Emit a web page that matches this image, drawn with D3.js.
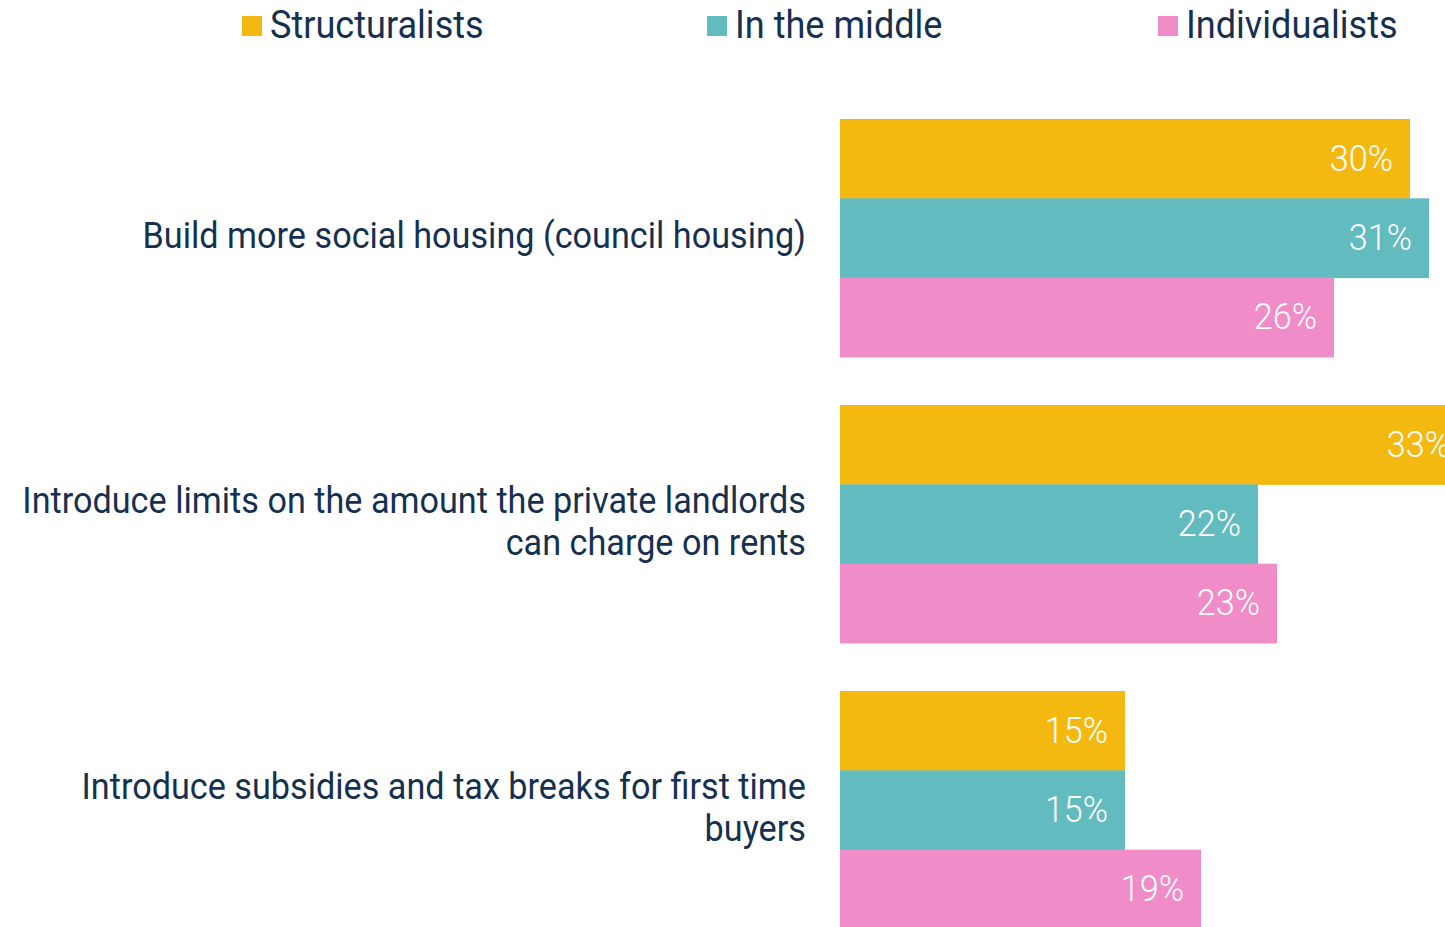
<!DOCTYPE html>
<html>
<head>
<meta charset="utf-8">
<script src="https://cdn.jsdelivr.net/npm/d3@7"></script>
<style>
  body { margin: 0; background: #fff; }
  text { font-family: Roboto, "Liberation Sans", sans-serif; }
</style>
</head>
<body>
<div id="chart"></div>
<script>
// data
const categories = [
  ["Build more social housing (council housing)"],
  ["Introduce limits on the amount the private landlords", "can charge on rents"],
  ["Introduce subsidies and tax breaks for first time", "buyers"]
];
const seriesNames = ["Structuralists", "In the middle", "Individualists"];
const structuralists = [30, 33, 15];
const inTheMiddle = [31, 22, 15];
const individualists = [26, 23, 19];
const colors = ["#F3B910", "#62BBBF", "#F08CC8"];

const width = 1445, height = 927;
const ink = "#16304F";
const squeeze = 0.95; // the original face is a bit narrower

const svg = d3.select("#chart").append("svg")
  .attr("width", width)
  .attr("height", height);

const x = d3.scaleLinear().domain([0, 31]).range([840, 1429]);

const y = d3.scaleBand()
  .domain(d3.range(categories.length))
  .range([119, 929])
  .paddingInner(0.168)
  .paddingOuter(0);

const ySub = d3.scaleBand()
  .domain(d3.range(seriesNames.length))
  .range([0, y.bandwidth()]);

const allSeries = [structuralists, inTheMiddle, individualists];

// bars
const groups = svg.selectAll("g.grp")
  .data(categories)
  .join("g")
  .attr("class", "grp")
  .attr("transform", (d, i) => `translate(0,${y(i)})`);

groups.each(function(cat, ci) {
  const g = d3.select(this);
  const rows = allSeries.map((s, si) => ({ si, v: s[ci] }));
  g.selectAll("rect")
    .data(rows)
    .join("rect")
    .attr("x", x(0))
    .attr("y", d => ySub(d.si))
    .attr("width", d => x(d.v) - x(0))
    .attr("height", ySub.bandwidth() + 0.5)
    .attr("fill", d => colors[d.si]);
  g.selectAll("text.val")
    .data(rows)
    .join("text")
    .attr("class", "val")
    .attr("transform", d => `translate(${x(d.v) - 17},${ySub(d.si) + ySub.bandwidth() / 2}) scale(${squeeze},1)`)
    .attr("dy", "0.33em")
    .attr("text-anchor", "end")
    .attr("fill", "#fff")
    .attr("font-size", 36)
    .attr("font-weight", 300)
    .text(d => d.v + "%");

  // category label
  const lh = 42;
  const y0 = y.bandwidth() / 2 - 2 - (cat.length - 1) * lh / 2;
  g.selectAll("text.cat")
    .data(cat)
    .join("text")
    .attr("class", "cat")
    .attr("transform", (d, i) => `translate(806,${y0 + i * lh}) scale(${squeeze},1)`)
    .attr("dy", "0.33em")
    .attr("text-anchor", "end")
    .attr("fill", ink)
    .attr("font-size", 36)
    .text(d => d);
});

// legend
const legendX = [242, 707, 1158];
const legend = svg.selectAll("g.leg")
  .data(seriesNames)
  .join("g")
  .attr("class", "leg")
  .attr("transform", (d, i) => `translate(${legendX[i]},26)`);
legend.append("rect")
  .attr("x", 0).attr("y", -10)
  .attr("width", 20).attr("height", 20)
  .attr("fill", (d, i) => colors[i]);
legend.append("text")
  .attr("transform", `translate(28,-1) scale(${squeeze},1)`)
  .attr("dy", "0.33em")
  .attr("fill", ink)
  .attr("font-size", 38)
  .text(d => d);
</script>
</body>
</html>
